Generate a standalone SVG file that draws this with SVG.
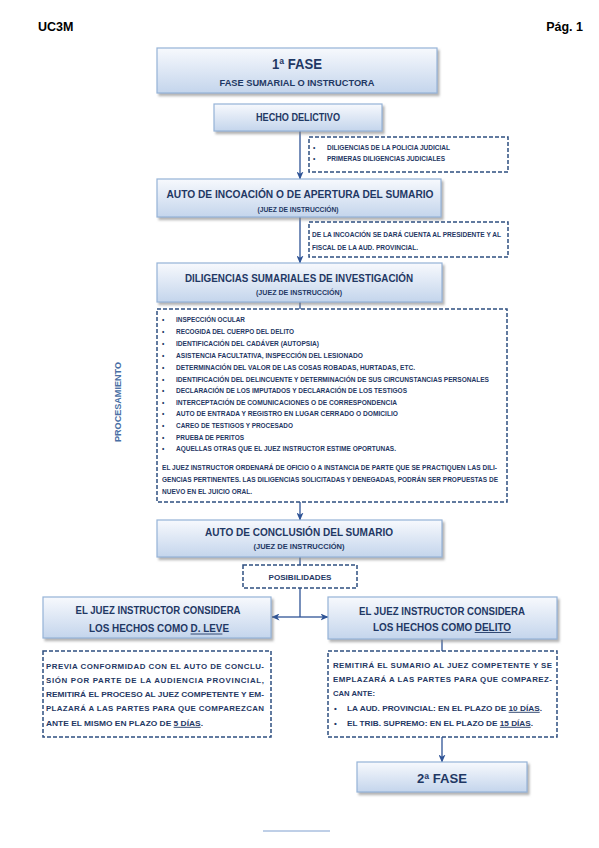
<svg xmlns="http://www.w3.org/2000/svg" width="599" height="848" viewBox="0 0 599 848">
<style>
text{font-family:"Liberation Sans",Arial,sans-serif;font-weight:bold;fill:#1f3864}
.box{fill:url(#g);stroke:#95b3d7;stroke-width:1.2;filter:url(#sh)}
.dash{fill:none;stroke:#2e4f80;stroke-width:1.5;stroke-dasharray:4 2}
.con{fill:none;stroke:#2f5496;stroke-width:1.3}
.ul{stroke:#1f3864;stroke-width:0.9}
.li{font-size:6.5px}
.sm{font-size:6.6px}
.md{font-size:7.9px}
</style>
<defs>
<linearGradient id="g" x1="0" y1="0" x2="0" y2="1">
<stop offset="0" stop-color="#f7f9fd"/>
<stop offset="1" stop-color="#c4d5ec"/>
</linearGradient>
<filter id="sh" x="-5%" y="-10%" width="115%" height="140%">
<feDropShadow dx="2" dy="2.5" stdDeviation="1" flood-color="#808080" flood-opacity="0.6"/>
</filter>
<marker id="ar" viewBox="0 0 8 7" refX="7.5" refY="3.5" markerWidth="8" markerHeight="7" markerUnits="userSpaceOnUse" orient="auto">
<path d="M0,0 L8,3.5 L0,7 L2.2,3.5 z" fill="#2f5496"/>
</marker>
</defs>
<rect width="599" height="848" fill="#ffffff"/>

<text x="38" y="31" font-size="12.5" style="fill:#000">UC3M</text>
<text x="583" y="31" font-size="12.5" text-anchor="end" style="fill:#000">Pág. 1</text>

<g id="connectors">
<line class="con" x1="300" y1="131" x2="300" y2="179" marker-end="url(#ar)"/>
<line class="con" x1="300" y1="217" x2="300" y2="263" marker-end="url(#ar)"/>
<line class="con" x1="300" y1="302" x2="300" y2="309"/>
<line class="con" x1="300" y1="502" x2="300" y2="520" marker-end="url(#ar)"/>
<line class="con" x1="300" y1="557" x2="300" y2="565"/>
<line class="con" x1="300" y1="588" x2="300" y2="617"/>
<line class="con" x1="300" y1="617" x2="272" y2="617" marker-end="url(#ar)"/>
<line class="con" x1="300" y1="617" x2="328" y2="617" marker-end="url(#ar)"/>
<line class="con" x1="442" y1="639" x2="442" y2="651"/>
<line class="con" x1="442" y1="737" x2="442" y2="762" marker-end="url(#ar)"/>
</g>

<g id="fase1">
<rect class="box" x="157" y="48" width="280" height="45"/>
<text x="297" y="69" font-size="14" text-anchor="middle" textLength="50" lengthAdjust="spacingAndGlyphs">1ª FASE</text>
<text x="297" y="86" font-size="8.5" text-anchor="middle" textLength="155" lengthAdjust="spacingAndGlyphs">FASE SUMARIAL O INSTRUCTORA</text>
</g>

<g id="hecho">
<rect class="box" x="214" y="104" width="168" height="27"/>
<text x="298" y="121" font-size="10" text-anchor="middle" textLength="84" lengthAdjust="spacingAndGlyphs">HECHO DELICTIVO</text>
</g>

<g id="nota1">
<rect class="dash" x="309" y="137" width="199" height="35"/>
<text class="sm" x="313" y="150">•</text>
<text class="sm" x="313" y="161">•</text>
<text class="sm" x="327" y="150" textLength="123" lengthAdjust="spacingAndGlyphs">DILIGENCIAS DE LA POLICIA JUDICIAL</text>
<text class="sm" x="327" y="161" textLength="118" lengthAdjust="spacingAndGlyphs">PRIMERAS DILIGENCIAS JUDICIALES</text>
</g>

<g id="auto-incoacion">
<rect class="box" x="157" y="179" width="284" height="38"/>
<text x="300" y="198" font-size="11.2" text-anchor="middle" textLength="267" lengthAdjust="spacingAndGlyphs">AUTO DE INCOACIÓN O DE APERTURA DEL SUMARIO</text>
<text x="298" y="211.5" font-size="7" text-anchor="middle" textLength="81" lengthAdjust="spacingAndGlyphs">(JUEZ DE INSTRUCCIÓN)</text>
</g>

<g id="nota2">
<rect class="dash" x="309" y="222" width="199" height="35"/>
<text class="sm" x="312" y="236.5" textLength="189" lengthAdjust="spacingAndGlyphs">DE LA INCOACIÓN SE DARÁ CUENTA AL PRESIDENTE Y AL</text>
<text class="sm" x="312" y="249.5" textLength="106" lengthAdjust="spacingAndGlyphs">FISCAL DE LA AUD. PROVINCIAL.</text>
</g>

<g id="diligencias">
<rect class="box" x="157" y="263" width="285" height="39"/>
<text x="299" y="282" font-size="11" text-anchor="middle" textLength="228" lengthAdjust="spacingAndGlyphs">DILIGENCIAS SUMARIALES DE INVESTIGACIÓN</text>
<text x="299" y="294.5" font-size="7" text-anchor="middle" textLength="86" lengthAdjust="spacingAndGlyphs">(JUEZ DE INSTRUCCIÓN)</text>
</g>

<g id="procesamiento">
<rect class="dash" x="157" y="309" width="350" height="193"/>
<text x="0" y="0" font-size="8.5" text-anchor="middle" textLength="80" lengthAdjust="spacingAndGlyphs" transform="translate(121,402) rotate(-90)" style="fill:#4a6fa5">PROCESAMIENTO</text>
<g class="li">
<text x="162" y="322">•</text>
<text x="162" y="334">•</text>
<text x="162" y="346">•</text>
<text x="162" y="358">•</text>
<text x="162" y="370">•</text>
<text x="162" y="381.5">•</text>
<text x="162" y="393">•</text>
<text x="162" y="404.5">•</text>
<text x="162" y="416">•</text>
<text x="162" y="428">•</text>
<text x="162" y="439.5">•</text>
<text x="162" y="451">•</text>
<text x="176" y="322" textLength="69" lengthAdjust="spacingAndGlyphs">INSPECCIÓN OCULAR</text>
<text x="176" y="334" textLength="118" lengthAdjust="spacingAndGlyphs">RECOGIDA DEL CUERPO DEL DELITO</text>
<text x="176" y="346" textLength="143" lengthAdjust="spacingAndGlyphs">IDENTIFICACIÓN DEL CADÁVER (AUTOPSIA)</text>
<text x="176" y="358" textLength="187" lengthAdjust="spacingAndGlyphs">ASISTENCIA FACULTATIVA, INSPECCIÓN DEL LESIONADO</text>
<text x="176" y="370" textLength="239" lengthAdjust="spacingAndGlyphs">DETERMINACIÓN DEL VALOR DE LAS COSAS ROBADAS, HURTADAS, ETC.</text>
<text x="176" y="381.5" textLength="313" lengthAdjust="spacingAndGlyphs">IDENTIFICACIÓN DEL DELINCUENTE Y DETERMINACIÓN DE SUS CIRCUNSTANCIAS PERSONALES</text>
<text x="176" y="393" textLength="231" lengthAdjust="spacingAndGlyphs">DECLARACIÓN DE LOS IMPUTADOS Y DECLARACIÓN DE LOS TESTIGOS</text>
<text x="176" y="404.5" textLength="221" lengthAdjust="spacingAndGlyphs">INTERCEPTACIÓN DE COMUNICACIONES O DE CORRESPONDENCIA</text>
<text x="176" y="416" textLength="222" lengthAdjust="spacingAndGlyphs">AUTO DE ENTRADA Y REGISTRO EN LUGAR CERRADO O DOMICILIO</text>
<text x="176" y="428" textLength="117" lengthAdjust="spacingAndGlyphs">CAREO DE TESTIGOS Y PROCESADO</text>
<text x="176" y="439.5" textLength="68" lengthAdjust="spacingAndGlyphs">PRUEBA DE PERITOS</text>
<text x="176" y="451" textLength="220" lengthAdjust="spacingAndGlyphs">AQUELLAS OTRAS QUE EL JUEZ INSTRUCTOR ESTIME OPORTUNAS.</text>
<text x="162" y="469.5" textLength="335" lengthAdjust="spacingAndGlyphs">EL JUEZ INSTRUCTOR ORDENARÁ DE OFICIO O A INSTANCIA DE PARTE QUE SE PRACTIQUEN LAS DILI-</text>
<text x="162" y="481.5" textLength="336" lengthAdjust="spacingAndGlyphs">GENCIAS PERTINENTES. LAS DILIGENCIAS SOLICITADAS Y DENEGADAS, PODRÁN SER PROPUESTAS DE</text>
<text x="162" y="493.5" textLength="90" lengthAdjust="spacingAndGlyphs">NUEVO EN EL JUICIO ORAL.</text>
</g>
</g>

<g id="auto-conclusion">
<rect class="box" x="157" y="520" width="285" height="37"/>
<text x="299" y="536" font-size="11" text-anchor="middle" textLength="188" lengthAdjust="spacingAndGlyphs">AUTO DE CONCLUSIÓN DEL SUMARIO</text>
<text x="299" y="548.5" font-size="7" text-anchor="middle" textLength="91" lengthAdjust="spacingAndGlyphs">(JUEZ DE INSTRUCCIÓN)</text>
</g>

<g id="posibilidades">
<rect class="dash" x="243" y="565" width="114" height="23"/>
<text x="300" y="579.5" font-size="7.2" text-anchor="middle" textLength="63" lengthAdjust="spacingAndGlyphs">POSIBILIDADES</text>
</g>

<g id="leve">
<rect class="box" x="43" y="597" width="228" height="41"/>
<text x="158" y="614" font-size="10.5" text-anchor="middle" textLength="165" lengthAdjust="spacingAndGlyphs">EL JUEZ INSTRUCTOR CONSIDERA</text>
<text x="159" y="632" font-size="10.5" text-anchor="middle" textLength="140" lengthAdjust="spacingAndGlyphs">LOS HECHOS COMO D. LEVE</text>
<line class="ul" x1="190.6" y1="634" x2="222.4" y2="634"/>
</g>

<g id="nota-leve">
<rect class="dash" x="43" y="651" width="228" height="86"/>
<text class="md" x="46" y="668.5" textLength="218" lengthAdjust="spacing">PREVIA CONFORMIDAD CON EL AUTO DE CONCLU-</text>
<text class="md" x="46" y="682.5" textLength="218" lengthAdjust="spacing">SIÓN POR PARTE DE LA AUDIENCIA PROVINCIAL,</text>
<text class="md" x="46" y="696.5" textLength="218" lengthAdjust="spacingAndGlyphs">REMITIRÁ EL PROCESO AL JUEZ COMPETENTE Y EM-</text>
<text class="md" x="46" y="710.5" textLength="218" lengthAdjust="spacing">PLAZARÁ A LAS PARTES PARA QUE COMPAREZCAN</text>
<text class="md" x="46" y="725.5" textLength="157" lengthAdjust="spacingAndGlyphs">ANTE EL MISMO EN PLAZO DE 5 DÍAS.</text>
<line class="ul" x1="173.6" y1="727.3" x2="200.7" y2="727.3"/>
</g>

<g id="delito">
<rect class="box" x="328" y="597" width="229" height="42"/>
<text x="442" y="615" font-size="10.5" text-anchor="middle" textLength="166" lengthAdjust="spacingAndGlyphs">EL JUEZ INSTRUCTOR CONSIDERA</text>
<text x="442" y="630.5" font-size="10.5" text-anchor="middle" textLength="138" lengthAdjust="spacingAndGlyphs">LOS HECHOS COMO DELITO</text>
<line class="ul" x1="474.7" y1="632.5" x2="511" y2="632.5"/>
</g>

<g id="nota-delito">
<rect class="dash" x="328" y="651" width="229" height="86"/>
<text class="md" x="333" y="667.5" textLength="219" lengthAdjust="spacing">REMITIRÁ EL SUMARIO AL JUEZ COMPETENTE Y SE</text>
<text class="md" x="333" y="681.5" textLength="219" lengthAdjust="spacing">EMPLAZARÁ A LAS PARTES PARA QUE COMPAREZ-</text>
<text class="md" x="333" y="695.5" textLength="42" lengthAdjust="spacingAndGlyphs">CAN ANTE:</text>
<text class="md" x="334" y="710.5">•</text>
<text class="md" x="334" y="725.5">•</text>
<text class="md" x="347" y="710.5" textLength="195" lengthAdjust="spacingAndGlyphs">LA AUD. PROVINCIAL: EN EL PLAZO DE 10 DÍAS.</text>
<line class="ul" x1="508.6" y1="712.3" x2="539.7" y2="712.3"/>
<text class="md" x="347" y="725.5" textLength="186" lengthAdjust="spacingAndGlyphs">EL TRIB. SUPREMO: EN EL PLAZO DE 15 DÍAS.</text>
<line class="ul" x1="499.8" y1="727.3" x2="530.7" y2="727.3"/>
</g>

<g id="fase2">
<rect class="box" x="357" y="762" width="170" height="30"/>
<text x="442" y="782.5" font-size="13" text-anchor="middle" textLength="50" lengthAdjust="spacingAndGlyphs">2ª FASE</text>
</g>

<line x1="263" y1="831" x2="330" y2="831" stroke="#7f9fcf" stroke-width="1"/>
</svg>
